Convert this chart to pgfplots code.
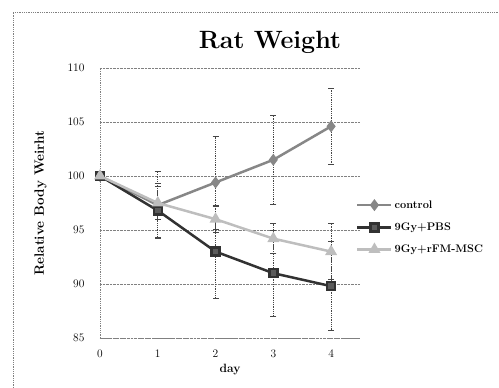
\documentclass[border=0pt]{standalone}
\usepackage{pgfplots}
\pgfplotsset{compat=1.18}
\definecolor{ctrl}{RGB}{135,135,135}
\definecolor{pbs}{RGB}{50,50,50}
\definecolor{msc}{RGB}{190,190,190}
\definecolor{ebar}{RGB}{70,70,70}
\begin{document}
\begin{tikzpicture}[x=1pt,y=1pt]
\path[use as bounding box] (0,0) rectangle (499,388);
\draw[gray, densely dotted, line width=0.8pt] (13,0) -- (13,376) -- (499,376);
\node[font=\fontsize{25}{30}\selectfont\bfseries] at (270,346) {Rat Weight};
\begin{axis}[
  at={(100pt,50pt)}, anchor=south west,
  scale only axis, width=260pt, height=270pt,
  xmin=0, xmax=4.5, ymin=85, ymax=110,
  xtick={0,1,2,3,4}, ytick={85,90,95,100,105,110},
  axis x line*=bottom, axis y line*=left,
  axis line style={gray, densely dotted, line width=0.8pt, -},
  ymajorgrids, grid style={gray, densely dotted, line width=0.8pt},
  major tick length=0pt,
  /pgf/number format/assume math mode=true,
  tick label style={font=\fontsize{11.5}{13}\selectfont},
  yticklabel style={xshift=-12pt},
  xticklabel style={yshift=-8pt},
  xlabel={\bfseries day}, xlabel style={font=\fontsize{12}{14}\selectfont, yshift=0pt},
  ylabel={\bfseries Relative Body Weirht}, ylabel style={font=\fontsize{13.5}{16}\selectfont, yshift=14pt},
  legend style={at={(1,0.41)}, anchor=west, draw=none, fill=none, font=\fontsize{11}{13}\selectfont\bfseries, row sep=9pt, inner xsep=0pt, xshift=-4pt},
  legend cell align=left,
  legend image code/.code={\draw[#1, mark repeat=2, mark phase=2] plot coordinates {(0pt,0pt) (17pt,0pt) (34pt,0pt)};},
  error bars/error bar style={ebar, line width=0.8pt, densely dotted},
  error bars/error mark options={rotate=90, mark size=3pt, ebar, line width=0.8pt, solid},
]
\addplot[ctrl, line width=2.5pt, mark=diamond*, mark size=4pt, mark options={solid, fill=ctrl}, error bars/.cd, y dir=both, y explicit]
 coordinates {(0,100) +- (0,0) (1,97.3) +- (0,3.1) (2,99.4) +- (0,4.3) (3,101.5) +- (0,4.1) (4,104.6) +- (0,3.5)};
\addlegendentry{control}
\addplot[pbs, line width=2.5pt, mark=square*, mark size=4pt, mark options={solid, fill=pbs!80!white}, error bars/.cd, y dir=both, y explicit]
 coordinates {(0,100) +- (0,0) (1,96.8) +- (0,2.5) (2,93.0) +- (0,4.3) (3,91.0) +- (0,4.0) (4,89.8) +- (0,4.1)};
\addlegendentry{9Gy+PBS}
\addplot[msc, line width=2.5pt, mark=triangle*, mark size=4.5pt, mark options={solid, fill=msc}, error bars/.cd, y dir=both, y explicit]
 coordinates {(0,100) +- (0,0) (1,97.5) +- (0,1.5) (2,96.0) +- (0,1.2) (3,94.2) +- (0,1.4) (4,93.0) +- (0,2.6)};
\addlegendentry{9Gy+rFM-MSC}
\end{axis}
\end{tikzpicture}
\end{document}
